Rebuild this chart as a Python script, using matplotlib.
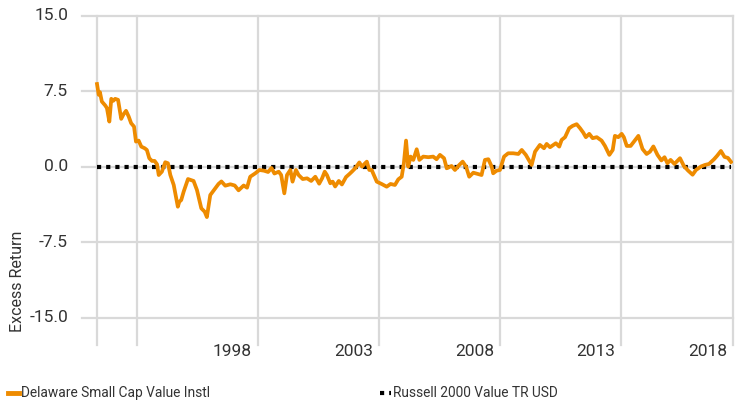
import matplotlib
matplotlib.use("Agg")
import matplotlib.pyplot as plt
from matplotlib.lines import Line2D
from matplotlib import font_manager as fm
import matplotlib.transforms as mtransforms

# ---- data ----
years = [1992.35, 1992.42, 1992.47, 1992.55, 1992.69, 1992.76, 1992.86, 1992.94, 1993.02, 1993.10,
         1993.22, 1993.35, 1993.45, 1993.55, 1993.66, 1993.76, 1993.88, 1993.96, 1994.07, 1994.18,
         1994.32, 1994.41, 1994.51, 1994.62, 1994.73, 1994.83, 1994.90, 1995.03, 1995.17, 1995.28,
         1995.38, 1995.52, 1995.69, 1995.75, 1995.83, 1995.93, 1996.11, 1996.34, 1996.48, 1996.66,
         1996.80, 1996.89, 1997.03, 1997.24, 1997.37, 1997.49, 1997.65, 1997.86, 1998.04, 1998.20,
         1998.41, 1998.55, 1998.68, 1998.89, 1999.06, 1999.25, 1999.42, 1999.56, 1999.68, 1999.86,
         1999.96, 2000.09, 2000.20, 2000.34, 2000.43, 2000.57, 2000.68, 2000.85, 2001.03, 2001.20,
         2001.37, 2001.53, 2001.65, 2001.76, 2001.85, 2001.99, 2002.09, 2002.19, 2002.34, 2002.47,
         2002.64, 2002.78, 2002.88, 2003.02, 2003.19, 2003.30, 2003.43, 2003.50, 2003.60, 2003.70,
         2003.91, 2004.11, 2004.32, 2004.48, 2004.66, 2004.80, 2004.94, 2005.03, 2005.12, 2005.21,
         2005.31, 2005.42, 2005.56, 2005.67, 2005.83, 2006.04, 2006.24, 2006.38, 2006.52, 2006.69,
         2006.80, 2007.00, 2007.14, 2007.32, 2007.46, 2007.60, 2007.73, 2007.90, 2008.10, 2008.24,
         2008.38, 2008.52, 2008.66, 2008.72, 2008.86, 2009.00, 2009.17, 2009.34, 2009.55, 2009.76,
         2009.90, 2010.07, 2010.31, 2010.45, 2010.65, 2010.82, 2010.93, 2011.07, 2011.31, 2011.45,
         2011.55, 2011.69, 2011.86, 2012.00, 2012.17, 2012.31, 2012.44, 2012.55, 2012.69, 2012.83,
         2013.00, 2013.20, 2013.34, 2013.52, 2013.66, 2013.75, 2013.89, 2014.03, 2014.12, 2014.24,
         2014.40, 2014.54, 2014.72, 2014.89, 2015.06, 2015.20, 2015.34, 2015.51, 2015.67, 2015.80,
         2015.92, 2016.05, 2016.21, 2016.44, 2016.60, 2016.77, 2016.96, 2017.10, 2017.31, 2017.47,
         2017.64, 2017.84, 2017.97, 2018.13, 2018.28, 2018.42, 2018.55]
fund_excess = [8.24, 7.17, 7.44, 6.50, 6.11, 5.85, 4.51, 6.77, 6.57, 6.77,
               6.67, 4.78, 5.25, 5.58, 5.01, 4.35, 4.01, 2.52, 2.62, 2.02,
               1.86, 1.69, 0.87, 0.60, 0.60, 0.27, -0.80, -0.47, 0.47, 0.37,
               -0.80, -1.79, -3.95, -3.46, -3.29, -2.46, -1.20, -1.39, -2.29, -4.11,
               -4.45, -4.98, -2.79, -2.12, -1.69, -1.44, -1.86, -1.72, -1.84, -2.32,
               -1.84, -2.06, -0.97, -0.63, -0.30, -0.37, -0.50, -0.10, -0.65, -0.47,
               -0.80, -2.62, -0.80, -0.30, -1.46, -0.30, -0.80, -1.20, -1.13, -1.39,
               -0.97, -1.66, -1.13, -0.47, -0.80, -1.62, -1.46, -1.94, -1.39, -1.74,
               -1.00, -0.70, -0.47, -0.13, 0.45, 0.03, 0.37, 0.53, -0.30, -0.30,
               -1.46, -1.69, -1.96, -1.69, -1.79, -1.23, -0.97, 0.37, 2.62, 0.03,
               1.03, 0.70, 1.76, 0.70, 1.03, 0.97, 1.03, 0.77, 1.20, 0.87,
               -0.13, 0.10, -0.30, 0.20, 0.53, 0.03, -0.97, -0.57, -0.70, -0.80,
               0.70, 0.77, 0.03, -0.63, -0.37, -0.30, 1.03, 1.36, 1.36, 1.29,
               1.69, 1.20, 0.20, 1.52, 2.19, 1.86, 2.29, 1.96, 2.36, 2.02,
               2.69, 2.96, 3.85, 4.08, 4.25, 3.85, 3.42, 2.96, 3.29, 2.86,
               2.96, 2.62, 2.09, 1.20, 1.69, 3.09, 2.96, 3.29, 2.96, 2.09,
               2.09, 2.52, 3.09, 1.79, 1.29, 1.52, 2.04, 1.20, 0.65, 0.97,
               0.37, 0.70, 0.30, 0.87, 0.10, -0.35, -0.77, -0.30, 0.05, 0.20,
               0.30, 0.75, 1.10, 1.59, 1.00, 0.90, 0.50]
benchmark_excess = [0.0] * len(years)

series_names = ["Delaware Small Cap Value Instl", "Russell 2000 Value TR USD"]
y_ticks = [15.0, 7.5, 0.0, -7.5, -15.0]
y_tick_labels = ["15.0", "7.5", "0.0", "-7.5", "-15.0"]
x_grid_years = [1994.0, 1999.0, 2004.0, 2009.0, 2014.0]
x_label_years = [1999.0, 2004.0, 2009.0, 2014.0, 2018.63]
x_tick_labels = ["1998", "2003", "2008", "2013", "2018"]
y_title = "Excess Return"

ORANGE = "#EE8B00"
GRID = "#D9D9D9"
TEXT = "#333333"

avail = {f.name for f in fm.fontManager.ttflist}
fam = [f for f in ["Liberation Sans Narrow", "Roboto", "DejaVu Sans"] if f in avail]
plt.rcParams["font.family"] = fam

W, H = 741, 409
fig = plt.figure(figsize=(W / 100, H / 100), dpi=100)
ax = fig.add_axes([82 / W, 1 - 345 / H, (733 - 82) / W, (345 - 16) / H])

x0 = 1991.73
x1 = 2018.63
ax.set_xlim(x0, x1)
ax.set_ylim(-17.69, 15.0)
for s in ax.spines.values():
    s.set_visible(False)
ax.set_xticks([])
ax.set_yticks([])

for yv in y_ticks:
    ax.axhline(yv, color=GRID, lw=1.6, zorder=1, clip_on=False)
for xv in [years[0]] + x_grid_years + [x1]:
    ax.axvline(xv, color=GRID, lw=1.6, zorder=1, clip_on=False)

ax.plot(years, benchmark_excess, color="black", lw=3.0, linestyle=(0, (1, 1.2)), zorder=3)
ax.plot(years, fund_excess, color=ORANGE, lw=2.7, zorder=4, solid_joinstyle="round")

# y tick labels
ytr = mtransforms.blended_transform_factory(fig.transFigure, ax.transData)
for yv, lab in zip(y_ticks, y_tick_labels):
    ax.text(68 / W, yv, lab, transform=ytr, ha="right", va="center",
            fontsize=12.5, color=TEXT)

# x tick labels
xtr = mtransforms.blended_transform_factory(ax.transData, fig.transFigure)
off = mtransforms.ScaledTranslation(-6 / 100, 0, fig.dpi_scale_trans)
for xv, lab in zip(x_label_years, x_tick_labels):
    ax.text(xv, 1 - 351 / H, lab, transform=xtr + off, ha="right", va="center",
            fontsize=12.5, color=TEXT)

fig.text(18 / W, 1 - 281 / H, y_title, rotation=90, ha="center", va="center",
         fontsize=11.5, color=TEXT)

# legend
fig.add_artist(Line2D([8 / W, 19 / W], [1 - 393 / H] * 2, color=ORANGE, lw=3.5,
                      transform=fig.transFigure))
fig.text(21 / W, 1 - 393 / H, series_names[0], ha="left", va="center",
         fontsize=9.9, color=TEXT)
fig.add_artist(Line2D([380 / W, 391 / W], [1 - 393 / H] * 2, color="black", lw=3.0,
                      linestyle=(0, (1, 1.2)), transform=fig.transFigure))
fig.text(393 / W, 1 - 393 / H, series_names[1], ha="left", va="center",
         fontsize=9.9, color=TEXT)

fig.savefig("out.png", dpi=100)
